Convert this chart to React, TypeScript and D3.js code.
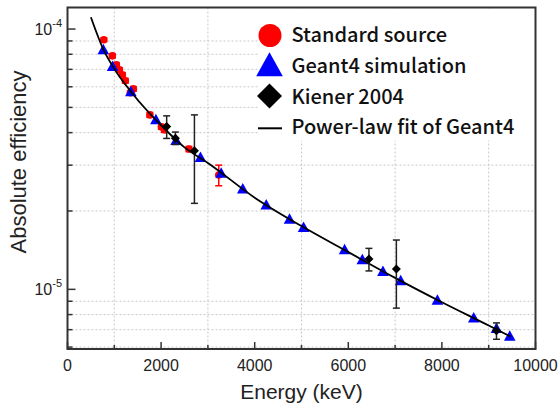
import * as d3 from 'd3';

// Standard source (red circles)
const stdEnergy = [776, 958, 1044, 1108, 1172, 1236, 1343, 1407, 1760, 2006, 2070, 2595, 3232];
const stdEff = [9.1e-5, 7.89e-5, 7.29e-5, 6.97e-5, 6.67e-5, 6.33e-5, 5.69e-5, 5.89e-5, 4.68e-5, 4.21e-5, 4.1e-5, 3.46e-5, 2.75e-5];
const stdErr = [1.5e-6, 1.5e-6, 1.4e-6, 1.4e-6, 1.3e-6, 1.3e-6, 1.1e-6, 1.2e-6, 1.0e-6, 0.9e-6, 0.9e-6, 0.8e-6, 2.5e-6];

// Geant4 simulation (blue triangles)
const g4Energy = [766, 963, 1354, 1889, 2321, 2841, 3283, 3745, 4246, 4744, 5044, 5921, 6300, 6740, 7119, 7904, 8680, 9166, 9450];
const g4Eff = [8.32e-5, 7.18e-5, 5.74e-5, 4.48e-5, 3.73e-5, 3.21e-5, 2.79e-5, 2.43e-5, 2.11e-5, 1.86e-5, 1.73e-5, 1.42e-5, 1.3e-5, 1.17e-5, 1.08e-5, 9.09e-6, 7.76e-6, 7.08e-6, 6.61e-6];

// Kiener 2004 (black diamonds)
const kienerEnergy = [2119, 2305, 2712, 6441, 7027, 9166];
const kienerEff = [4.22e-5, 3.81e-5, 3.41e-5, 1.307e-5, 1.197e-5, 6.93e-6];
const kienerErr = [4.2e-6, 2.1e-6, 1.27e-5, 1.3e-6, 3.5e-6, 0.5e-6];

// Power-law fit of Geant4
const fitEnergy = [500, 766, 1000, 1400, 2000, 2500, 3000, 4000, 5000, 6000, 7000, 8000, 9000, 9470];
const fitEff = [1.11e-4, 8.35e-5, 7.03e-5, 5.62e-5, 4.27e-5, 3.51e-5, 3.06e-5, 2.25e-5, 1.75e-5, 1.39e-5, 1.107e-5, 8.92e-6, 7.26e-6, 6.58e-6];

const xMajor = [0, 2000, 4000, 6000, 8000, 10000];
const xMinor = [1000, 3000, 5000, 7000, 9000];
const yMajor = [1e-5, 1e-4];
const yMajorLabels = ['-5', '-4'];
const yMinor = [6e-6, 7e-6, 8e-6, 9e-6, 2e-5, 3e-5, 4e-5, 5e-5, 6e-5, 7e-5, 8e-5, 9e-5];

const legendItems = ['Standard source', 'Geant4 simulation', 'Kiener 2004', 'Power-law fit of Geant4'];

const W = 559;
const H = 408;
const left = 67.5;
const right = 535.5;
const top = 7.5;
const bottom = 349;

const App = () => {
  const x = d3.scaleLinear().domain([0, 10000]).range([left, right]);
  const y = d3.scaleLog().domain([5.9e-6, 1.21e-4]).range([bottom, top]);

  const fitLine = d3.line<number>()
    .x((_, i) => x(fitEnergy[i]))
    .y(d => y(d))
    .curve(d3.curveMonotoneX);

  const axisColor = '#333';
  const tri = (cx: number, cy: number, s: number) =>
    `M${cx},${cy - s * 0.6}L${cx + s * 0.58},${cy + s * 0.45}L${cx - s * 0.58},${cy + s * 0.45}Z`;
  const dia = (cx: number, cy: number, s: number) =>
    `M${cx},${cy - s}L${cx + s},${cy}L${cx},${cy + s}L${cx - s},${cy}Z`;

  const errBar = (e: number, v: number, err: number, color: string, key: string) => (
    <g key={key} stroke={color} strokeWidth={1.5}>
      <line x1={x(e)} x2={x(e)} y1={y(v + err)} y2={y(v - err)} />
      <line x1={x(e) - 3.5} x2={x(e) + 3.5} y1={y(v + err)} y2={y(v + err)} />
      <line x1={x(e) - 3.5} x2={x(e) + 3.5} y1={y(v - err)} y2={y(v - err)} />
    </g>
  );

  const legendY = [35.5, 66, 96, 128.3];
  const legendText = [42, 73, 103.5, 134];
  const sans = "'Liberation Sans', Arial, sans-serif";

  return (
    <svg width={W} height={H} style={{ position: 'absolute', left: 0, top: 0, background: '#fff', fontFamily: sans }}>
      <rect width={W} height={H} fill="#fff" />
      {/* minor grid */}
      <g stroke="#c8c8c8" strokeWidth={1} strokeDasharray="2,2">
        {xMinor.map(v => (
          <line key={`gx${v}`} x1={x(v)} x2={x(v)} y1={top} y2={bottom} />
        ))}
        {yMinor.map(v => (
          <line key={`gy${v}`} x1={left} x2={right} y1={y(v)} y2={y(v)} />
        ))}
      </g>

      {/* legend background */}
      <rect x={258} y={top + 1} width={right - 259} height={132} fill="#fff" />

      {/* standard source */}
      {stdEnergy.map((e, i) => errBar(e, stdEff[i], stdErr[i], '#f00', `se${i}`))}
      {stdEnergy.map((e, i) => (
        <circle key={`s${i}`} cx={x(e)} cy={y(stdEff[i])} r={3.8} fill="#f00" />
      ))}

      {/* geant4 */}
      {g4Energy.map((e, i) => (
        <path key={`g${i}`} d={tri(x(e), y(g4Eff[i]), 10)} fill="#00f" />
      ))}

      {/* fit */}
      <path d={fitLine(fitEff) ?? ''} fill="none" stroke="#000" strokeWidth={1.8} />

      {/* kiener */}
      {kienerEnergy.map((e, i) => errBar(e, kienerEff[i], kienerErr[i], '#222', `ke${i}`))}
      {kienerEnergy.map((e, i) => (
        <path key={`k${i}`} d={dia(x(e), y(kienerEff[i]), 4.5)} fill="#000" />
      ))}

      {/* frame */}
      <rect x={left} y={top} width={right - left} height={bottom - top} fill="none" stroke={axisColor} strokeWidth={2} />

      {/* ticks */}
      <g stroke={axisColor} strokeWidth={1.5}>
        {xMajor.map(v => (
          <line key={`xt${v}`} x1={x(v)} x2={x(v)} y1={bottom} y2={bottom - 7} />
        ))}
        {xMinor.map(v => (
          <line key={`xm${v}`} x1={x(v)} x2={x(v)} y1={bottom} y2={bottom - 4} />
        ))}
        {yMajor.map(v => (
          <line key={`yt${v}`} x1={left} x2={left + 8} y1={y(v)} y2={y(v)} />
        ))}
        {yMinor.map(v => (
          <line key={`ym${v}`} x1={left} x2={left + 5} y1={y(v)} y2={y(v)} />
        ))}
      </g>
      <g fontSize={16} fill="#222" textAnchor="middle" style={{ fontFamily: sans }}>
        {xMajor.map(v => (
          <text key={`xl${v}`} x={x(v)} y={371}>{v}</text>
        ))}
      </g>
      <g fontSize={16} fill="#222" textAnchor="end" style={{ fontFamily: sans }}>
        {yMajor.map((v, i) => (
          <text key={`yl${v}`} x={62} y={y(v) + 6}>
            10<tspan fontSize={11} dy={-8}>{yMajorLabels[i]}</tspan>
          </text>
        ))}
      </g>

      <text x={(left + right) / 2} y={399} fontSize={21} textAnchor="middle" fill="#222" style={{ fontFamily: sans }}>
        Energy (keV)
      </text>
      <text transform="translate(26,162) rotate(-90)" fontSize={22} textAnchor="middle" fill="#222" style={{ fontFamily: sans }}>
        Absolute efficiency
      </text>

      {/* legend */}
      <circle cx={270} cy={legendY[0]} r={11.5} fill="#f00" />
      <path d={tri(269.5, legendY[1], 23)} fill="#00f" />
      <path d={dia(269.5, legendY[2], 12.5)} fill="#000" />
      <line x1={258} x2={282} y1={legendY[3]} y2={legendY[3]} stroke="#000" strokeWidth={2} />
      <g fontSize={20} fontWeight={500} fill="#111" style={{ fontFamily: "'Noto Sans CJK SC', 'Noto Sans', sans-serif" }}>
        {legendItems.map((t, i) => (
          <text key={t} x={291.5} y={legendText[i]}>{t}</text>
        ))}
      </g>
    </svg>
  );
};

export default App;
